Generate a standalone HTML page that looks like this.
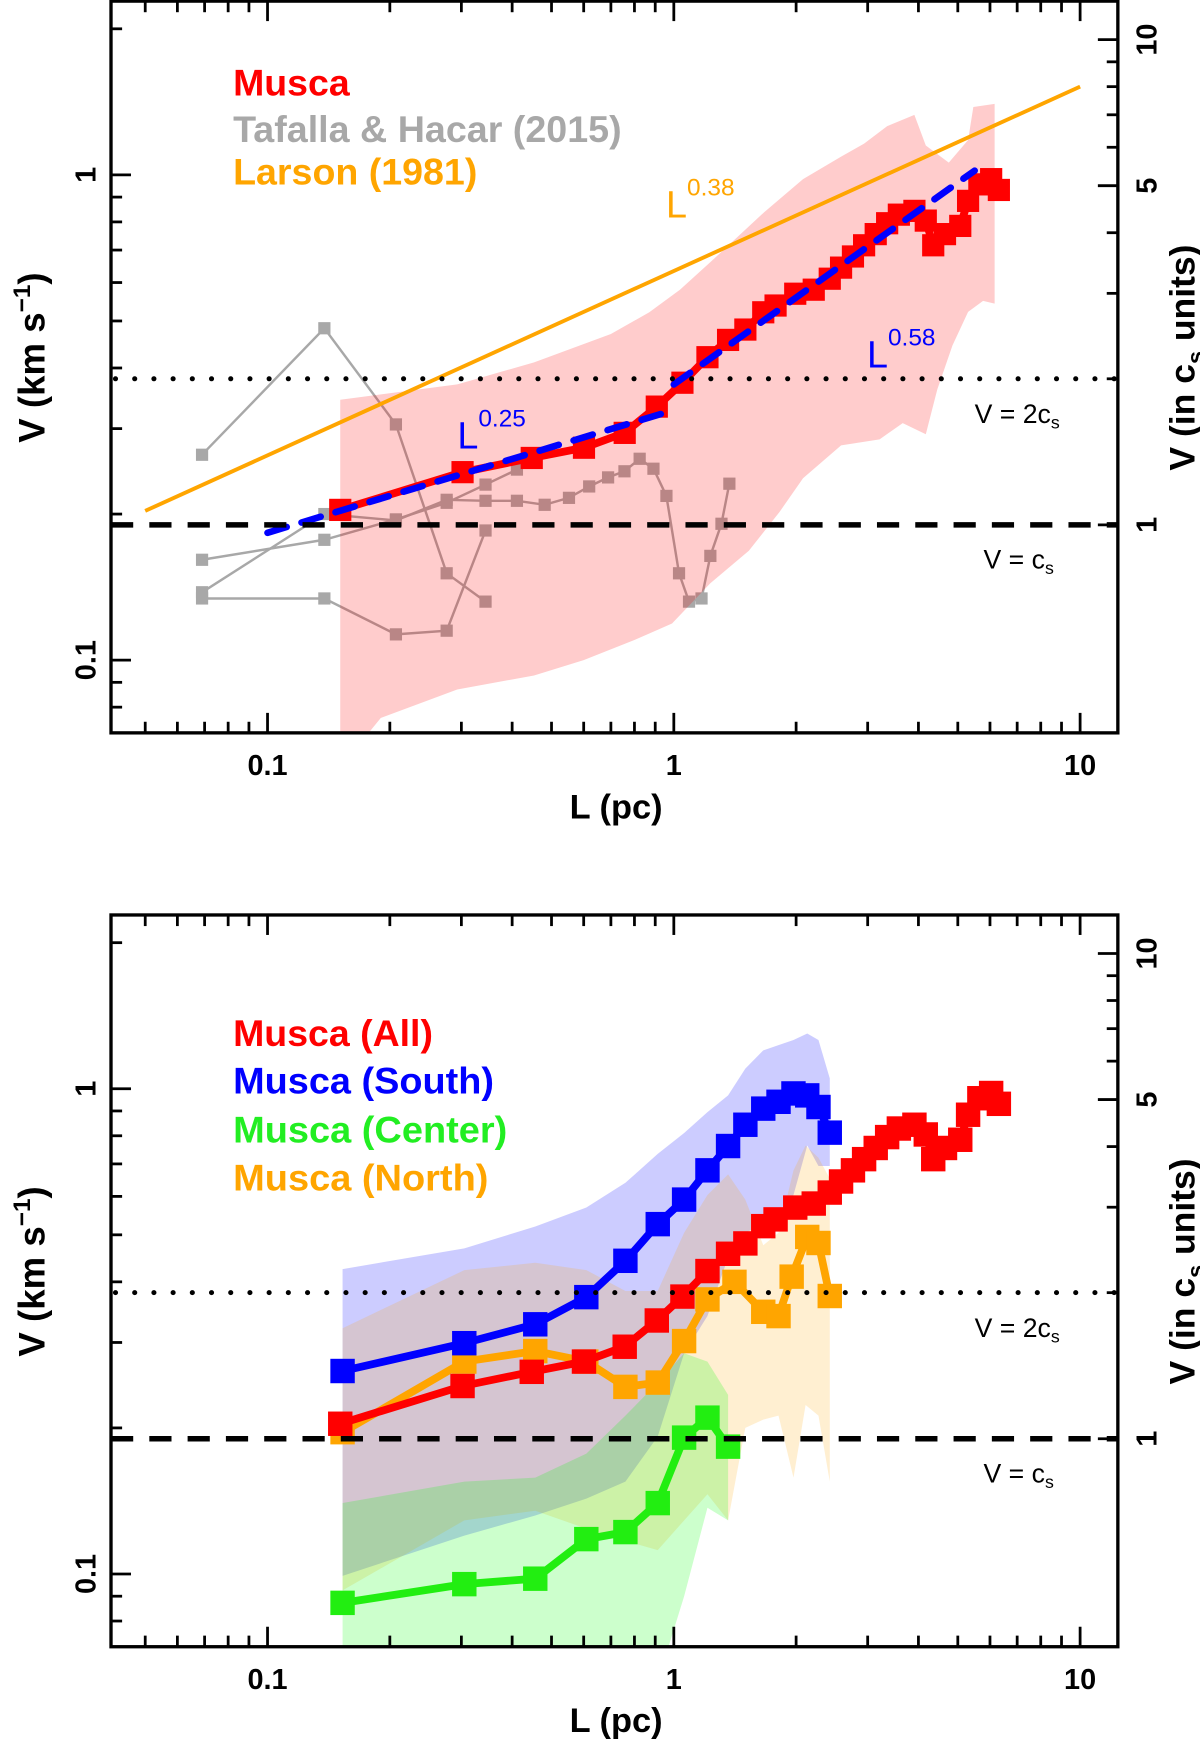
<!DOCTYPE html>
<html><head><meta charset="utf-8"><style>
html,body{margin:0;padding:0;background:#fff;}
svg{display:block;font-family:"Liberation Sans",sans-serif;}
</style></head><body>
<svg id="chart" width="1200" height="1740" viewBox="0 0 1081 1567" preserveAspectRatio="none" xmlns="http://www.w3.org/2000/svg">
<defs>
<clipPath id="clipTop"><rect x="100" y="1" width="907" height="659"/></clipPath>
<clipPath id="clipBot"><rect x="100" y="823" width="907" height="660"/></clipPath>
</defs>
<g id="gTop"></g>
<g id="gBot"></g>

<!-- top panel text -->
<text x="210" y="86" font-size="33" font-weight="bold" fill="#ff0000" textLength="105" lengthAdjust="spacingAndGlyphs">Musca</text>
<text x="210" y="128" font-size="33" font-weight="bold" fill="#a8a8a8" textLength="350" lengthAdjust="spacingAndGlyphs">Tafalla &amp; Hacar (2015)</text>
<text x="210" y="166" font-size="33" font-weight="bold" fill="#ffa500" textLength="220" lengthAdjust="spacingAndGlyphs">Larson (1981)</text>
<text x="600" y="196" font-size="34" fill="#ffa500">L<tspan font-size="22" dy="-20">0.38</tspan></text>
<text x="412" y="404" font-size="34" fill="#0000ff">L<tspan font-size="22" dy="-20">0.25</tspan></text>
<text x="781" y="331" font-size="34" fill="#0000ff">L<tspan font-size="22" dy="-20">0.58</tspan></text>
<text x="878" y="381" font-size="24">V = 2c<tspan font-size="16" dy="5">s</tspan></text>
<text x="886" y="512" font-size="24">V = c<tspan font-size="16" dy="5">s</tspan></text>
<text x="555" y="737" font-size="31" font-weight="bold" text-anchor="middle">L (pc)</text>
<text transform="translate(40,322) rotate(-90)" font-size="33" font-weight="bold" text-anchor="middle">V (km s<tspan font-size="22" dy="-13">−1</tspan><tspan dy="13">)</tspan></text>
<text transform="translate(1076,322) rotate(-90)" font-size="32" font-weight="bold" text-anchor="middle">V (in c<tspan font-size="21" dy="8">s</tspan><tspan dy="-8"> units)</tspan></text>

<!-- bottom panel text -->
<text x="210" y="942" font-size="33" font-weight="bold" fill="#ff0000" textLength="180" lengthAdjust="spacingAndGlyphs">Musca (All)</text>
<text x="210" y="985" font-size="33" font-weight="bold" fill="#0000ff" textLength="235" lengthAdjust="spacingAndGlyphs">Musca (South)</text>
<text x="210" y="1029" font-size="33" font-weight="bold" fill="#22ee22" textLength="247" lengthAdjust="spacingAndGlyphs">Musca (Center)</text>
<text x="210" y="1072" font-size="33" font-weight="bold" fill="#ffa500" textLength="230" lengthAdjust="spacingAndGlyphs">Musca (North)</text>
<text x="878" y="1204" font-size="24">V = 2c<tspan font-size="16" dy="5">s</tspan></text>
<text x="886" y="1335" font-size="24">V = c<tspan font-size="16" dy="5">s</tspan></text>
<text x="555" y="1560" font-size="31" font-weight="bold" text-anchor="middle">L (pc)</text>
<text transform="translate(40,1145) rotate(-90)" font-size="33" font-weight="bold" text-anchor="middle">V (km s<tspan font-size="22" dy="-13">−1</tspan><tspan dy="13">)</tspan></text>
<text transform="translate(1076,1145) rotate(-90)" font-size="32" font-weight="bold" text-anchor="middle">V (in c<tspan font-size="21" dy="8">s</tspan><tspan dy="-8"> units)</tspan></text>
</svg>
<script>
// ---- data ----
const cs = 0.19;
const muscaL = [0.151,0.302,0.447,0.601,0.757,0.908,1.05,1.21,1.36,1.50,1.66,1.78,1.99,2.21,2.42,2.58,2.76,2.94,3.14,3.35,3.58,3.91,4.17,4.35,4.65,5.07,5.30,5.65,6.04,6.31];
const muscaV = [0.204,0.244,0.261,0.274,0.294,0.333,0.373,0.421,0.457,0.480,0.521,0.538,0.569,0.580,0.611,0.644,0.679,0.716,0.755,0.795,0.828,0.843,0.805,0.716,0.755,0.785,0.884,0.956,0.98,0.931];
const bandUpL = [0.151,0.293,0.453,0.70,0.87,1.035,1.23,1.67,2.08,2.58,2.94,3.35,3.91,4.17,4.75,5.30,5.46,6.16,6.16];
const bandUpV = [0.344,0.370,0.411,0.470,0.521,0.580,0.661,0.838,0.98,1.09,1.16,1.26,1.33,1.15,1.06,1.18,1.38,1.40,0.543];
const bandLoL = [0.151,0.19,0.293,0.453,0.60,0.80,0.99,1.23,1.53,1.82,2.08,2.58,3.21,3.66,4.17,4.45,4.85,5.30,5.77,6.16];
const bandLoV = [0.060,0.076,0.087,0.093,0.100,0.110,0.119,0.144,0.168,0.202,0.237,0.277,0.285,0.308,0.292,0.361,0.445,0.522,0.55,0.543];
const larsonL = [0.05,10];
const larsonV = [0.203,1.52];
const fit1L = [0.1,0.97];
const fit1V = [0.183,0.325];
const fit2L = [1.0,5.5];
const fit2V = [0.370,1.02];
const tafL = [0.069,0.138,0.207,0.276,0.344,0.411,0.481,0.552,0.619,0.689,0.756,0.824,0.891,0.959,1.03,1.09,1.17,1.23,1.31,1.37];
const taf1V = [0.265,0.483,0.306,0.151,0.132];
const taf2V = [0.134,0.134,0.113,0.115,0.185];
const taf3V = [0.161,0.177,0.195,0.211,0.230,0.247];
const taf4V = [0.138,0.200,0.194,0.214,0.213,0.213,0.209,0.216,0.228,0.238,0.245,0.260,0.248,0.218,0.151,0.132,0.134,0.164,0.191,0.231];

const southL = [0.153,0.305,0.456,0.609,0.760,0.913,1.06,1.21,1.36,1.50,1.66,1.81,1.97,2.13,2.27,2.42];
const southV = [0.262,0.299,0.327,0.372,0.442,0.526,0.591,0.679,0.762,0.843,0.910,0.940,0.978,0.969,0.917,0.812];
const southUp = [0.425,0.469,0.520,0.569,0.640,0.734,0.811,0.895,0.969,1.10,1.20,1.23,1.26,1.30,1.26,1.05];
const southLo = [0.0991,0.120,0.132,0.143,0.155,0.192,0.285,0.340,0.449,0.505,0.526,0.547,0.604,0.764,0.693,0.693];
const northL = [0.153,0.305,0.456,0.609,0.760,0.913,1.06,1.21,1.41,1.66,1.81,1.95,2.13,2.27,2.42];
const northV = [0.196,0.274,0.288,0.274,0.243,0.248,0.302,0.368,0.400,0.347,0.340,0.410,0.495,0.481,0.374];
const northBandL = [0.153,0.305,0.456,0.609,0.760,0.913,1.06,1.21,1.36,1.50,1.66,1.81,1.97,2.11,2.27,2.42];
const northUp = [0.321,0.423,0.438,0.423,0.383,0.383,0.505,0.604,0.666,0.591,0.476,0.505,0.679,0.764,0.721,0.653];
const northLo = [0.0925,0.129,0.135,0.124,0.117,0.112,0.129,0.146,0.129,0.200,0.208,0.212,0.158,0.223,0.212,0.155];
const centerL = [0.153,0.305,0.456,0.609,0.760,0.913,1.06,1.21,1.36];
const centerV = [0.0872,0.0953,0.0978,0.118,0.122,0.140,0.191,0.210,0.183];
const centerUp = [0.140,0.155,0.158,0.177,0.212,0.248,0.285,0.274,0.234];
const centerLo = [0.060,0.060,0.060,0.060,0.060,0.060,0.090,0.137,0.129];

const xMajor = [0.1,1,10];
const xMajorLabels = ["0.1","1","10"];
const yMajor = [0.1,1];
const yMajorLabels = ["0.1","1"];
const csMajor = [1,5,10];
const csMajorLabels = ["1","5","10"];

// ---- axes ----
const NS = "http://www.w3.org/2000/svg";
const X0 = 607, DX = 366, DY = 437;
function X(L){ return X0 + DX*Math.log10(L); }
function Yf(top){ const y1 = top + 157.5; return function(V){ return y1 - DY*Math.log10(V); }; }
function mk(parent, tag, attrs){ const e = document.createElementNS(NS, tag); for (const k in attrs) e.setAttribute(k, attrs[k]); parent.appendChild(e); return e; }
function pts(Ls, Vs, Y){ return Ls.slice(0, Vs.length).map((l,i)=>X(l).toFixed(1)+","+Y(Vs[i]).toFixed(1)).join(" "); }
function bandPts(Ls, up, lo, Y){ const a = Ls.map((l,i)=>X(l).toFixed(1)+","+Y(up[i]).toFixed(1)); const b = Ls.map((l,i)=>X(l).toFixed(1)+","+Y(lo[i]).toFixed(1)).reverse(); return a.concat(b).join(" "); }
function bandPts2(uL, uV, lL, lV, Y){ const a = uL.map((l,i)=>X(l).toFixed(1)+","+Y(uV[i]).toFixed(1)); const b = lL.map((l,i)=>X(l).toFixed(1)+","+Y(lV[i]).toFixed(1)).reverse(); return a.concat(b).join(" "); }
function squares(g, Ls, Vs, Y, size, color, name){
  Ls.slice(0, Vs.length).forEach((l,i)=>{
    const r = mk(g, "rect", {x:X(l)-size/2, y:Y(Vs[i])-size/2, width:size, height:size, fill:color});
    
    
  });
}

function axes(g, top, Y){
  const bot = top + 660;
  const dot = mk(g, "line", {x1:104, x2:1007, y1:Y(2*cs), y2:Y(2*cs), stroke:"#000", "stroke-width":4.5, "stroke-dasharray":"0.1 17.2", "stroke-linecap":"round"});
  
  
  const dash = mk(g, "line", {x1:100, x2:1007, y1:Y(cs), y2:Y(cs), stroke:"#000", "stroke-width":5, "stroke-dasharray":"20 14.5"});
  
  
  const fr = mk(g, "rect", {x:100, y:top+1, width:907, height:659, fill:"none", stroke:"#000", "stroke-width":3});
  
  
  for (let d=-2; d<=1; d++){
    for (let k=1; k<=9; k++){
      const L = k*Math.pow(10,d); const x = X(L);
      if (x < 101 || x > 1006) continue;
      const len = k===1 ? 18 : 10;
      const t1 = mk(g, "line", {x1:x, x2:x, y1:bot, y2:bot-len, stroke:"#000", "stroke-width":2.5});
      
      
      const t2 = mk(g, "line", {x1:x, x2:x, y1:top+1, y2:top+1+len, stroke:"#000", "stroke-width":2.5});
      
      
    }
  }
  xMajor.forEach((L,i)=>{
    const t = mk(g, "text", {x:X(L), y:bot+38, "font-size":26, "text-anchor":"middle", "font-weight":"bold"});
    t.textContent = xMajorLabels[i];
    
    
  });
  for (let d=-2; d<=0; d++){
    for (let k=1; k<=9; k++){
      const V = k*Math.pow(10,d); const y = Y(V);
      if (y < top+2 || y > bot-1) continue;
      const len = k===1 ? 18 : 10;
      const t = mk(g, "line", {x1:100, x2:100+len, y1:y, y2:y, stroke:"#000", "stroke-width":2.5});
      
      
    }
  }
  yMajor.forEach((V,i)=>{
    const y = Y(V);
    const t = mk(g, "text", {transform:"translate(86,"+y+") rotate(-90)", "font-size":26, "text-anchor":"middle", "font-weight":"bold"});
    t.textContent = yMajorLabels[i];
    
    
  });
  for (let k=1; k<=10; k++){
    const y = Y(k*cs);
    const len = (k===1||k===5||k===10) ? 18 : 10;
    const t = mk(g, "line", {x1:1007, x2:1007-len, y1:y, y2:y, stroke:"#000", "stroke-width":2.5});
    
    
  }
  csMajor.forEach((k,i)=>{
    const y = Y(k*cs);
    const t = mk(g, "text", {transform:"translate(1042,"+y+") rotate(-90)", "font-size":26, "text-anchor":"middle", "font-weight":"bold"});
    t.textContent = csMajorLabels[i];
    
    
  });
}

// ---- top panel ----
const gT = document.getElementById("gTop");
const YT = Yf(0);
const cT = mk(gT, "g", {"clip-path":"url(#clipTop)"});


[[taf1V,'tafalla-series-1'],[taf2V,'tafalla-series-2'],[taf3V,'tafalla-series-3'],[taf4V,'tafalla-series-4']].forEach(([vs,name])=>{
  const pl = mk(cT, "polyline", {points:pts(tafL, vs, YT), fill:"none", stroke:"#a8a8a8", "stroke-width":2.2});
  
  
  squares(cT, tafL, vs, YT, 11, "#a8a8a8", 'tafalla-point');
});
const band = mk(cT, "polygon", {points:bandPts2(bandUpL, bandUpV, bandLoL, bandLoV, YT), fill:"rgba(255,0,0,0.2)"});


const lars = mk(cT, "polyline", {points:pts(larsonL, larsonV, YT), fill:"none", stroke:"#ffa500", "stroke-width":3.5});


const mline = mk(cT, "polyline", {points:pts(muscaL, muscaV, YT), fill:"none", stroke:"#ff0000", "stroke-width":7});


squares(cT, muscaL, muscaV, YT, 20, "#ff0000", 'musca-point');
[[fit1L,fit1V,'fit-l025'],[fit2L,fit2V,'fit-l058']].forEach(([ls,vs,name])=>{
  const f = mk(cT, "polyline", {points:pts(ls, vs, YT), fill:"none", stroke:"#0000ff", "stroke-width":6, "stroke-dasharray":"18 14", "stroke-linecap":"round"});
  
  
});
axes(gT, 0, YT);

// ---- bottom panel ----
const gB = document.getElementById("gBot");
const YB = Yf(823);
const cB = mk(gB, "g", {"clip-path":"url(#clipBot)"});


const bS = mk(cB, "polygon", {points:bandPts(southL, southUp, southLo, YB), fill:"rgba(0,0,255,0.2)"});


const bN = mk(cB, "polygon", {points:bandPts(northBandL, northUp, northLo, YB), fill:"rgba(255,165,0,0.18)"});


const bC = mk(cB, "polygon", {points:bandPts(centerL, centerUp, centerLo, YB), fill:"rgba(0,255,0,0.2)"});


[[centerL,centerV,"#22ee11",'center'],[northL,northV,"#ffa500",'north'],[muscaL,muscaV,"#ff0000",'all'],[southL,southV,"#0000ff",'south']].forEach(([ls,vs,col,nm])=>{
  const pl = mk(cB, "polyline", {points:pts(ls, vs, YB), fill:"none", stroke:col, "stroke-width":7});
  
  
  squares(cB, ls, vs, YB, 22, col, nm+'-point');
});
axes(gB, 823, YB);
</script>
</body></html>
